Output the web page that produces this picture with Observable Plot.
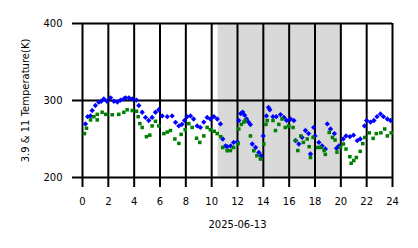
<!DOCTYPE html>
<html>
<head>
<meta charset="utf-8">
<script src="https://cdn.jsdelivr.net/npm/d3@7"></script>
<script src="https://cdn.jsdelivr.net/npm/@observablehq/plot@0.6"></script>
<style>
  html, body { margin: 0; padding: 0; background: #fff; }
</style>
</head>
<body>
<div id="chart"></div>
<script>
// Time (hours) and brightness temperature (K) of the 3.9 µm channel
const hours39 = [0.23,0.4,0.62,0.75,1.0,1.26,1.45,1.65,1.9,2.17,2.43,2.7,2.95,3.2,3.33,3.59,3.85,4.18,4.36,4.62,4.88,5.13,5.39,5.65,5.91,6.17,6.56,6.94,7.2,7.46,7.7,7.9,8.1,8.36,8.6,8.88,9.13,9.39,9.65,9.9,10.17,10.43,10.68,10.86,11.07,11.2,11.46,11.7,11.98,12.1,12.25,12.4,12.55,12.7,12.85,13.0,13.14,13.4,13.65,13.83,13.99,14.24,14.4,14.5,14.75,15.0,15.33,15.6,15.8,16.1,16.36,16.49,16.75,17.0,17.26,17.5,17.65,17.9,18.0,18.3,18.55,18.8,18.95,19.2,19.5,19.67,19.85,20.18,20.4,20.7,20.98,21.27,21.5,21.83,22.0,22.3,22.56,22.8,23.07,23.3,23.6,23.85];
const temp39 = [269.6,279,280,287,293.5,297.8,299,302,299,303.5,299,298,300.5,302,303.5,303.5,302,300.5,293.5,284.7,278,274,278,284.7,288,280,279,280,271.7,267,269,274,279,280,276,267,265,272,278,276,279,276,269.6,250,241,240,241,245.6,246,274,283,285,281,276,272,268.7,243.5,239,232.6,228.3,254,280,291,288,279,279,281.7,278,274,276,274,248,243.5,252,261,257,230.5,265,254,245.6,241,237,269.6,263,257,238,241,250,254,253,255,248,250,267,274,272,274,279,282.6,279,276,274];

// Time (hours) and brightness temperature (K) of the 11 µm channel
const hours11 = [0.15,0.31,0.62,0.88,1.14,1.14,1.52,1.8,2.3,2.81,3.2,3.46,3.85,4.18,4.31,4.44,4.62,4.95,5.21,5.39,5.65,5.91,6.3,6.56,6.81,7.15,7.46,7.64,7.95,8.23,8.49,8.83,9.08,9.39,9.65,9.9,10.2,10.43,10.7,10.86,11.2,11.45,11.7,12.05,12.1,12.3,12.5,12.6,13.0,13.26,13.5,13.78,14.04,14.2,14.3,14.75,14.94,15.2,15.45,15.7,15.97,16.3,16.5,16.67,16.9,17.1,17.4,17.55,17.65,17.85,18.2,18.45,18.7,18.8,19.1,19.35,19.55,19.7,19.98,20.2,20.4,20.7,20.8,21.0,21.2,21.5,21.7,21.85,22.2,22.5,22.75,23.1,23.4,23.6,23.9];
const temp11 = [257,264,274.8,279,274.8,282,284.7,282,281.5,282,284.7,288,287,286,279,270,265,253,255,267,273,267,257,259,261,250,244.3,256,262,270,265,251,245.6,254,265,262,260,257,253,239,234.8,235,239,244,263,269,272,274,254,234.8,228.3,224,243.5,269,274,274,261,269,276,265,267,265,248,235,254,245.6,250,240,226,252,239,239,235,230,258.6,252,248.7,233,239,243.5,237,227,218.5,222,226,234,244,252,258,250.8,257,258,263,254,258];

// Shaded interval (hours)
const shadeStart = [10.5];
const shadeEnd = [20];

// Tick values and labels
const xTicks = [0,2,4,6,8,10,12,14,16,18,20,22,24];
const yTicks = [200,300,400];
const xLabel = "2025-06-13";
const yLabel = "3.9 & 11 Temperature(K)";

const s39 = hours39.map((h, i) => ({h, t: temp39[i]}));
const s11 = hours11.map((h, i) => ({h, t: temp11[i]}));
const shade = shadeStart.map((a, i) => ({a, b: shadeEnd[i]}));

const chart = Plot.plot({
  width: 418,
  height: 248,
  marginLeft: 82,
  marginRight: 26,
  marginTop: 23,
  marginBottom: 71,
  style: {fontFamily: "'DejaVu Sans', sans-serif", fontSize: "10px", color: "black", background: "white"},
  x: {domain: [0, 24]},
  y: {domain: [200, 400]},
  marks: [
    Plot.rect(shade, {x1: "a", x2: "b", y1: yTicks[0], y2: yTicks[yTicks.length - 1], fill: "#d9d9d9"}),
    Plot.ruleX(xTicks, {stroke: "black", strokeWidth: 2}),
    Plot.ruleY(yTicks, {stroke: "black", strokeWidth: 2}),
    Plot.axisX({ticks: xTicks, tickSize: 10, tickPadding: 10, strokeWidth: 2, label: xLabel, labelAnchor: "center", labelArrow: "none", labelOffset: 50}),
    Plot.axisY({ticks: yTicks, tickSize: 10, tickPadding: 10, strokeWidth: 2, label: yLabel, labelAnchor: "center", labelArrow: "none", labelOffset: 61}),
    Plot.dot(s39, {x: "h", y: "t", symbol: "diamond2", r: 2.4, fill: "#0000ff", stroke: "none"}),
    Plot.dot(s11, {x: "h", y: "t", symbol: "square", r: 2.0, fill: "#008000", stroke: "none"})
  ]
});
document.getElementById("chart").appendChild(chart);
</script>
</body>
</html>
